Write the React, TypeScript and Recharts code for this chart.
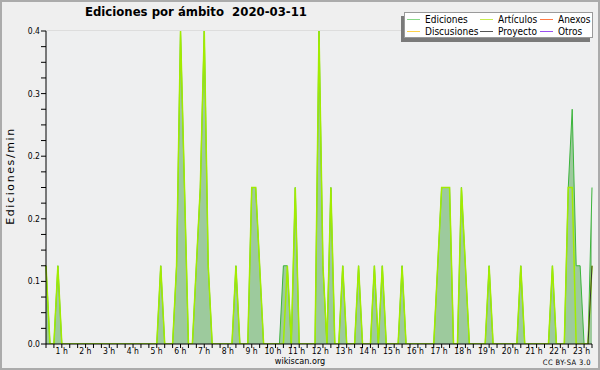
import { ComposedChart, Area, Line, XAxis, YAxis, CartesianGrid } from "recharts"

// minutes since 00:00, 10-minute buckets (zeros kept around each spike)
const minutos = [0, 10, 20, 30, 40, 280, 290, 300, 320, 330, 340, 350, 360, 370, 380, 390, 400, 410, 420, 470, 480, 490, 510, 520, 530, 540, 550, 590, 600, 610, 620, 630, 640, 680, 690, 700, 710, 720, 730, 740, 750, 760, 780, 790, 800, 820, 830, 840, 850, 860, 890, 900, 910, 980, 990, 1000, 1010, 1020, 1030, 1040, 1050, 1060, 1070, 1110, 1120, 1130, 1190, 1200, 1210, 1270, 1280, 1290, 1310, 1320, 1330, 1340, 1350, 1360, 1370, 1380]
const ediciones = [0.1, 0, 0, 0.1, 0, 0, 0.1, 0, 0, 0.1, 0.4, 0.2, 0, 0, 0.1, 0.2, 0.4, 0.1, 0, 0, 0.1, 0, 0, 0.2, 0.2, 0.1, 0, 0, 0.1, 0.1, 0, 0.2, 0, 0, 0.4, 0.1, 0, 0.2, 0, 0, 0.1, 0, 0, 0.1, 0, 0, 0.1, 0, 0.1, 0, 0, 0.1, 0, 0, 0.1, 0.2, 0.2, 0.2, 0, 0, 0.2, 0.1, 0, 0, 0.1, 0, 0, 0.1, 0, 0, 0.1, 0, 0, 0.2, 0.3, 0.1, 0.1, 0, 0, 0.2]
const articulos = [0.1, 0, 0, 0.1, 0, 0, 0.1, 0, 0, 0.1, 0.4, 0.2, 0, 0, 0.1, 0.2, 0.4, 0.1, 0, 0, 0.1, 0, 0, 0.2, 0.2, 0.1, 0, 0, 0, 0.1, 0, 0.2, 0, 0, 0.4, 0.1, 0, 0.2, 0, 0, 0.1, 0, 0, 0.1, 0, 0, 0.1, 0, 0.1, 0, 0, 0.1, 0, 0, 0.1, 0.2, 0.2, 0.2, 0, 0, 0.2, 0.1, 0, 0, 0.1, 0, 0, 0.1, 0, 0, 0.1, 0, 0, 0.2, 0.2, 0, 0, 0, 0, 0.1]
const proyectoMin = [1370, 1380]
const proyecto = [0, 0.1]

const yTicks = [0, 0.02, 0.04, 0.06, 0.08, 0.1, 0.12, 0.14, 0.16, 0.18, 0.2, 0.22, 0.24, 0.26, 0.28, 0.3, 0.32, 0.34, 0.36, 0.38, 0.4]
const yGrid = [0.08, 0.16, 0.24, 0.32, 0.4]
const xTicks = Array.from({ length: 70 }, (_, i) => i * 20)

const legend = [
  { name: "Ediciones", color: "#88d888" },
  { name: "Artículos", color: "#c8ec50" },
  { name: "Anexos", color: "#ff7a45" },
  { name: "Discusiones", color: "#ffd24a" },
  { name: "Proyecto", color: "#555555" },
  { name: "Otros", color: "#9a50f0" },
]

const rows = minutos.map((m, i) => {
  const p = proyectoMin.indexOf(m)
  return { m, ed: ediciones[i], art: articulos[i], proy: p >= 0 ? proyecto[p] : null }
})

const FONT = "'DejaVu Sans Condensed', 'DejaVu Sans', sans-serif"

function XTick(props: any) {
  const { x, y, payload } = props
  const v = payload.value
  if (v === 0 || v % 60 !== 0) return null
  return (
    <text x={x - 2} y={y + 4} textAnchor="end" fontSize={8.5} fontFamily={FONT} fill="#000">
      {v / 60} h
    </text>
  )
}

function YTick(props: any) {
  const { x, y, payload } = props
  const v = payload.value
  if (Math.round(v * 100) % 8 !== 0) return null
  return (
    <text x={x} y={y + 3} textAnchor="end" fontSize={8.5} fontFamily={FONT} fill="#000">
      {v.toFixed(1)}
    </text>
  )
}

export default function App() {
  return (
    <div style={{ position: "relative", width: 600, height: 370, background: "#efefef", fontFamily: FONT }}>
      <style>{"body{margin:0}"}</style>
      <ComposedChart width={600} height={370} data={rows} margin={{ top: 31, right: 8, left: 0, bottom: 0 }}>
        <rect x={46} y={31} width={546} height={313} fill="#eeeff0" />
        <CartesianGrid vertical={false} horizontalValues={yGrid} stroke="#cbcbcb" />
        <XAxis
          dataKey="m"
          type="number"
          domain={[0, 1380]}
          ticks={xTicks}
          interval={0}
          height={26}
          tickSize={4}
          tickMargin={2}
          tick={<XTick />}
          axisLine={{ stroke: "#000" }}
          tickLine={{ stroke: "#000" }}
        />
        <YAxis
          type="number"
          domain={[0, 0.4]}
          allowDataOverflow
          ticks={yTicks}
          interval={0}
          width={46}
          tickSize={5}
          tickMargin={1}
          tick={<YTick />}
          axisLine={{ stroke: "#000" }}
          tickLine={{ stroke: "#000" }}
        />
        <Area type="linear" dataKey="ed" stroke="#3cb43c" strokeWidth={1} fill="#9dca9d" fillOpacity={1} isAnimationActive={false} />
        <Line type="linear" dataKey="art" stroke="#a2ec00" strokeWidth={1.5} dot={false} isAnimationActive={false} />
        <Line type="linear" dataKey="proy" stroke="#333333" strokeWidth={1} dot={false} isAnimationActive={false} />
      </ComposedChart>

      <div style={{ position: "absolute", left: 85, top: 4, fontSize: 13, fontWeight: "bold", whiteSpace: "pre" }}>
        {"Ediciones por ámbito  2020-03-11"}
      </div>
      <div
        style={{
          position: "absolute",
          left: 10,
          top: 176,
          transform: "translate(-50%, -50%) rotate(-90deg)",
          fontFamily: "'DejaVu Sans', sans-serif",
          fontSize: 11,
          letterSpacing: 1.6,
          whiteSpace: "nowrap",
        }}
      >
        Ediciones/min
      </div>
      <div style={{ position: "absolute", left: 0, width: 600, top: 356, lineHeight: "10px", textAlign: "center", fontSize: 9 }}>wikiscan.org</div>
      <div style={{ position: "absolute", right: 9, top: 358, lineHeight: "9px", fontSize: 7.5, letterSpacing: 0.4 }}>CC BY-SA 3.0</div>

      <div
        style={{
          position: "absolute",
          left: 404,
          top: 12,
          width: 189,
          height: 26,
          background: "#fff",
          border: "1px solid #9a9a9a",
          boxSizing: "border-box",
          boxShadow: "-3px 4px 0 #7a7a7a",
          fontSize: 10,
        }}
      >
        {legend.map((it, i) => {
          const col = i % 3
          const row = Math.floor(i / 3)
          const lx = [2, 75, 135][col]
          return (
            <div key={it.name} style={{ position: "absolute", left: lx, top: row * 12, height: 12, display: "flex", alignItems: "center", whiteSpace: "nowrap" }}>
              <span style={{ display: "inline-block", width: 13, height: 1, background: it.color, marginRight: 5 }} />
              {it.name}
            </div>
          )
        })}
      </div>
      <div style={{ position: "absolute", inset: 0, border: "2px solid #ababab", pointerEvents: "none" }} />
    </div>
  )
}
